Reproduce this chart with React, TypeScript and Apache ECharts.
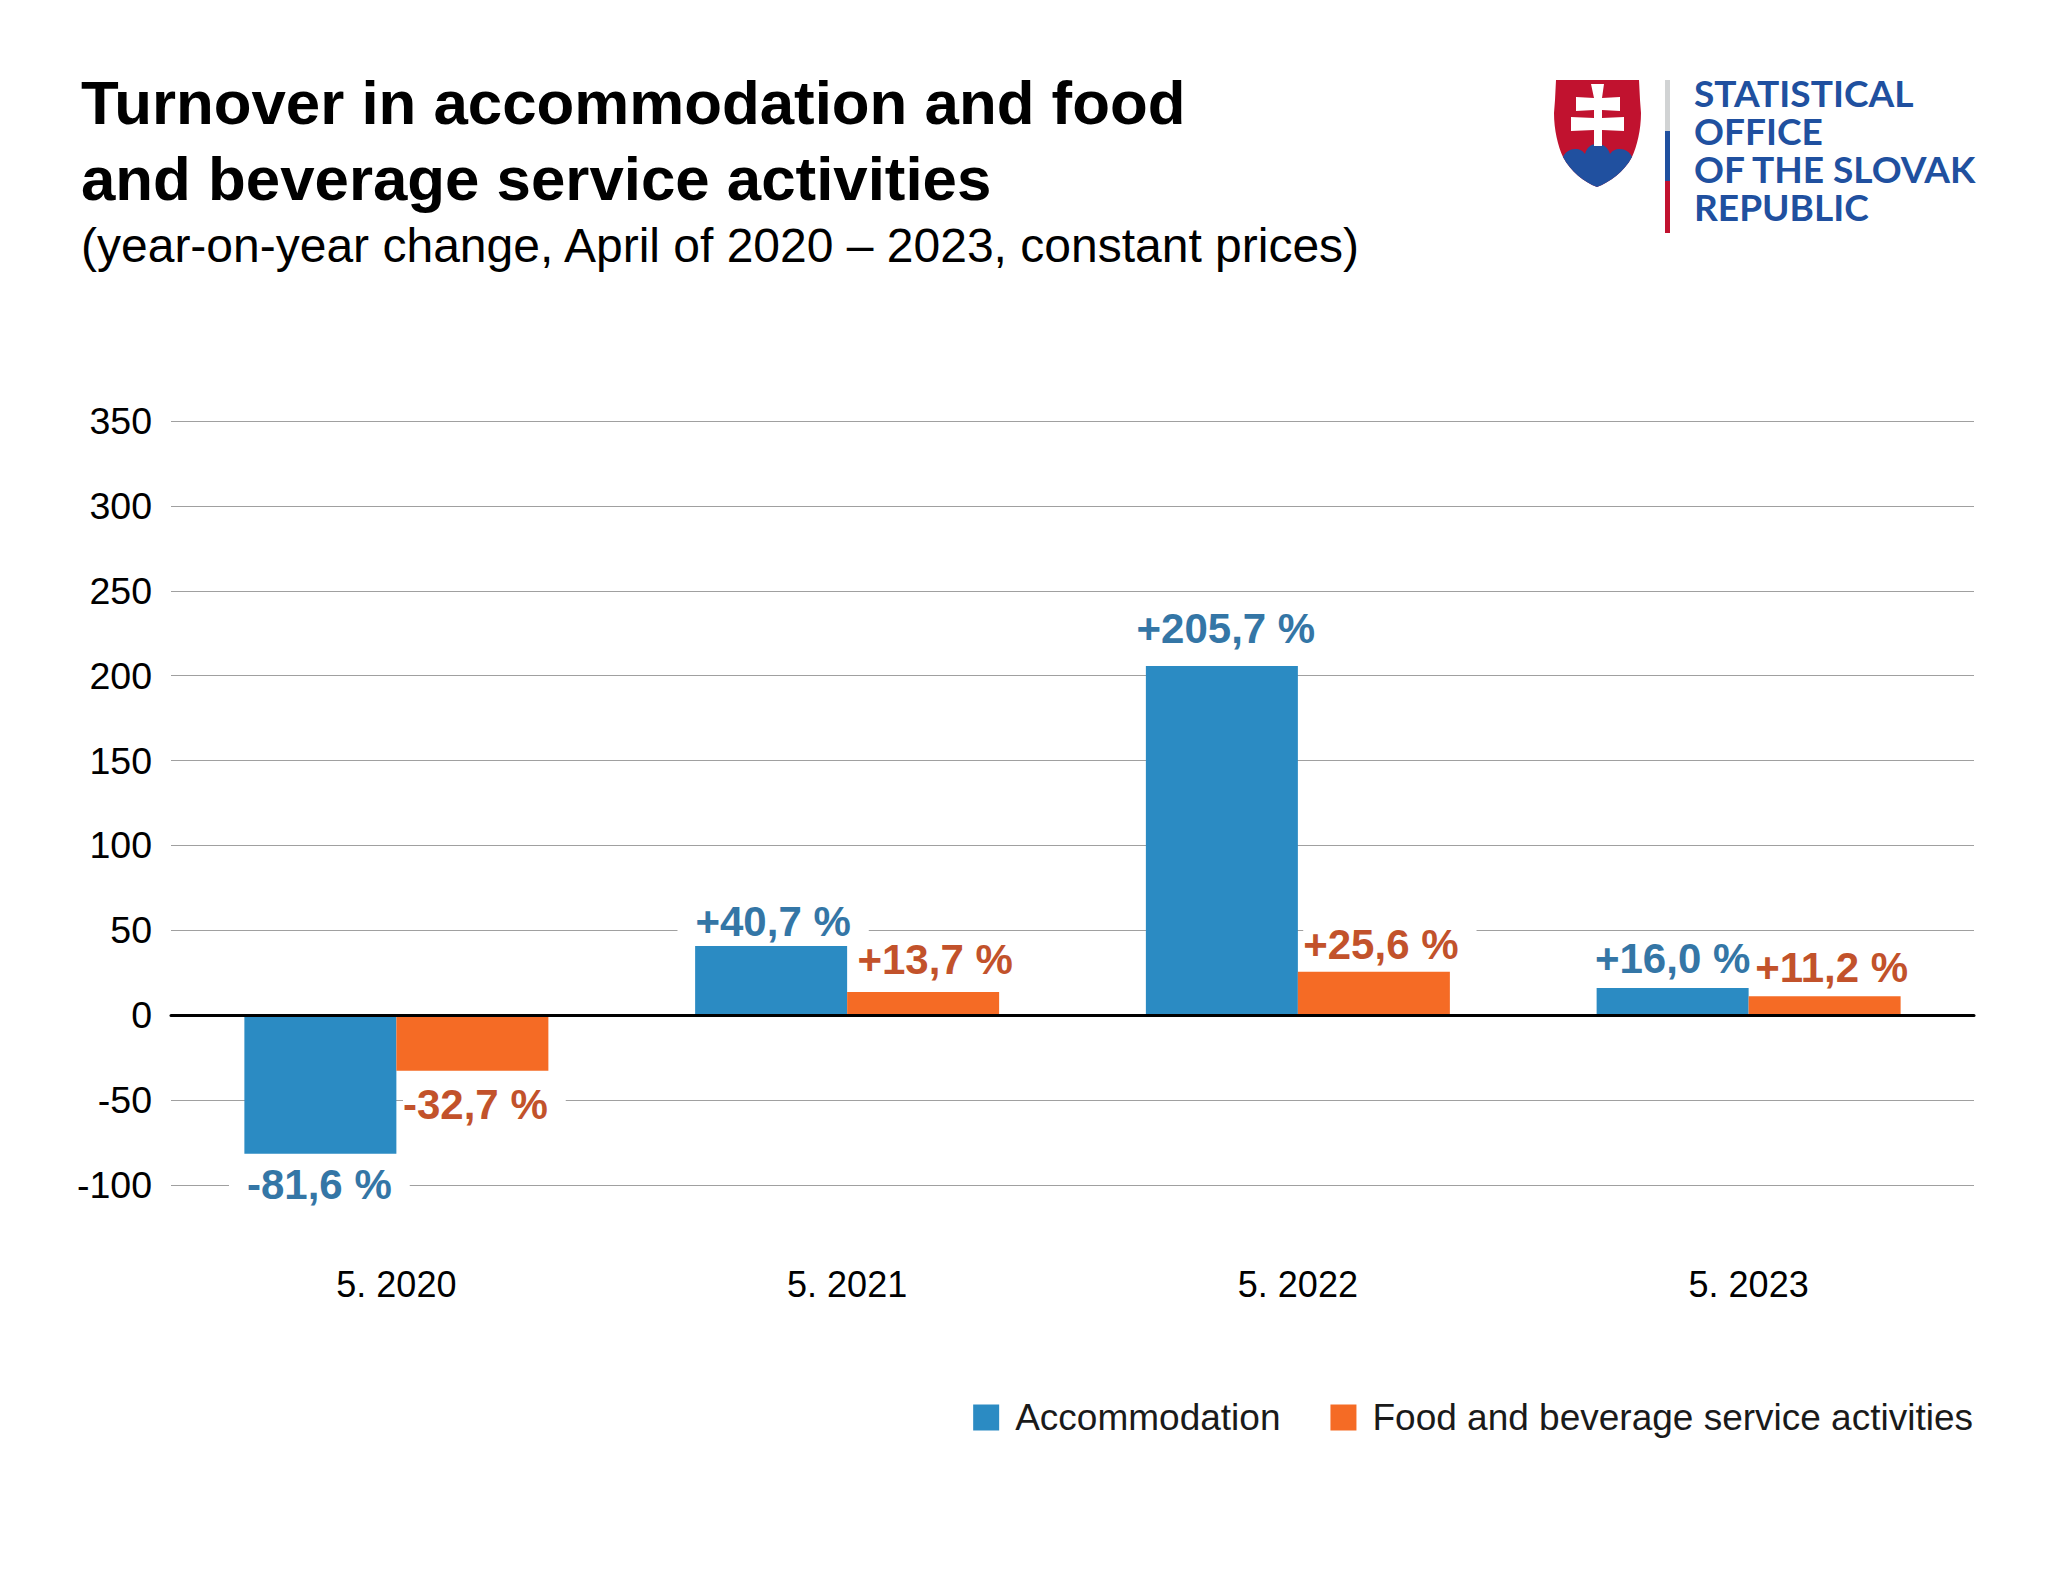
import React, { useEffect, useRef } from "react";
import * as echarts from "echarts";

const categories = ["5. 2020", "5. 2021", "5. 2022", "5. 2023"];
const accommodation = [-81.6, 40.7, 205.7, 16.0];
const foodBeverage = [-32.7, 13.7, 25.6, 11.2];
const seriesNames = ["Accommodation", "Food and beverage service activities"];
const titleLines = ["Turnover in accommodation and food", "and beverage service activities"];
const subtitle = "(year-on-year change, April of 2020 – 2023, constant prices)";
const logoLines = ["STATISTICAL", "OFFICE", "OF THE SLOVAK", "REPUBLIC"];

const FONT = '"Liberation Sans", Arial, sans-serif';
const fmt = (v: number) => `${v > 0 ? "+" : ""}${v.toFixed(1).replace(".", ",")} %`;

echarts.graphic.registerShape(
  "skShield",
  echarts.graphic.extendPath(
    "M1556 80 L1639 80 L1640 100 L1641 113 C1641 130 1637 146 1632 157 C1624 172 1610 182 1597 187 C1584 182 1571 172 1563 157 C1558 146 1554 130 1554 113 L1555 100 Z",
    {}
  )
);
echarts.graphic.registerShape(
  "skHills",
  echarts.graphic.extendPath(
    "M1563 157 C1565 152 1570 149 1575 149 C1580 149 1583 151 1585 154 C1587 147 1591 144 1597 144 C1603 144 1608 147 1610 154 C1612 151 1615 149 1620 149 C1625 149 1630 152 1632 157 C1624 172 1610 182 1597 187 C1584 182 1571 172 1563 157 Z",
    {}
  )
);
echarts.graphic.registerShape(
  "skCross",
  echarts.graphic.extendPath(
    "M1591 84 L1604 84 L1602 98 L1620 97 L1620 111 L1602 110 L1602 118 L1624 117 L1624 131 L1602 130 L1602 146 L1594 146 L1594 130 L1571 131 L1571 117 L1594 118 L1594 110 L1576 111 L1576 97 L1594 98 Z",
    {}
  )
);

// Hand placement of the value labels, as in the source chart.
const blueNudge = [[-1, 4], [2, 2], [4, -10], [0, -3]];
const orangeNudge = [[12, 7], [21, -5], [16, 0], [16, -2]];

export default function App() {
  const ref = useRef<HTMLDivElement>(null);
  useEffect(() => {
    document.body.style.margin = "0";
    const chart = echarts.init(ref.current!, undefined, { renderer: "svg" });
    const barLabel = (color: string, padding: number[]) => ({
      show: true,
      position: "outside" as const,
      distance: 6,
      color,
      fontFamily: FONT,
      fontWeight: "bold" as const,
      fontSize: 42,
      lineHeight: 42,
      backgroundColor: "#ffffff",
      padding,
      formatter: (p: any) => fmt(p.value),
    });
    chart.setOption({
      animation: false,
      backgroundColor: "#ffffff",
      textStyle: { fontFamily: FONT },
      title: [
        {
          text: titleLines.join("\n"),
          left: 81,
          top: 64,
          padding: 0,
          textStyle: { fontFamily: FONT, fontWeight: "bold", fontSize: 61.8, lineHeight: 76, color: "#000000" },
        },
        {
          text: subtitle,
          left: 81,
          top: 218,
          padding: 0,
          textStyle: { fontFamily: FONT, fontWeight: "normal", fontSize: 48, lineHeight: 54, color: "#000000" },
        },
      ],
      legend: {
        right: 75,
        top: 1399,
        itemWidth: 26,
        itemHeight: 26,
        itemGap: 50,
        icon: "rect",
        padding: 0,
        textStyle: { fontFamily: FONT, fontSize: 37, color: "#1a1a1a", padding: [0, 0, 0, 11] },
        data: seriesNames,
      },
      grid: { left: 171, right: 74, top: 421, height: 764, containLabel: false },
      xAxis: [
        {
          type: "category",
          data: categories,
          position: "bottom",
          axisLine: { show: false, onZero: false },
          axisTick: { show: false },
          axisLabel: { fontFamily: FONT, fontSize: 36, color: "#000000", margin: 81 },
        },
        {
          type: "category",
          data: categories,
          position: "bottom",
          axisLine: { show: true, onZero: true, lineStyle: { color: "#000000", width: 3 } },
          axisTick: { show: false },
          axisLabel: { show: false },
          z: 5,
        },
      ],
      yAxis: {
        type: "value",
        min: -100,
        max: 350,
        interval: 50,
        axisLine: { show: false },
        axisTick: { show: false },
        axisLabel: { fontFamily: FONT, fontSize: 37.5, color: "#000000", margin: 19 },
        splitLine: { lineStyle: { color: "#a0a0a0", width: 1 } },
      },
      series: [
        {
          name: seriesNames[0],
          type: "bar",
          data: accommodation.map((value, i) => ({ value, label: { offset: blueNudge[i] } })),
          barWidth: 152,
          barGap: 0,
          itemStyle: { color: "#2b8bc3" },
          label: barLabel("#3476a6", [0, 18, 0, 18]),
        },
        {
          name: seriesNames[1],
          type: "bar",
          data: foodBeverage.map((value, i) => ({ value, label: { offset: orangeNudge[i] } })),
          barWidth: 152,
          barGap: 0,
          itemStyle: { color: "#f56b25" },
          label: barLabel("#c2522b", [0, 18, 0, 0]),
        },
      ],
      graphic: [
        { type: "skShield", x: 0, y: 0, style: { fill: "#c1122f" } },
        { type: "skHills", x: 0, y: 0, style: { fill: "#20509f" } },
        { type: "skCross", x: 0, y: 0, style: { fill: "#ffffff" } },
        { type: "rect", shape: { x: 1665, y: 80, width: 5, height: 51 }, style: { fill: "#d1d3d4" } },
        { type: "rect", shape: { x: 1665, y: 131, width: 5, height: 50 }, style: { fill: "#20509f" } },
        { type: "rect", shape: { x: 1665, y: 181, width: 5, height: 52 }, style: { fill: "#c1122f" } },
        {
          type: "text",
          x: 1694,
          y: 74,
          scaleX: 1.03,
          style: {
            text: logoLines.join("\n"),
            fill: "#20509f",
            fontFamily: "Lato, sans-serif",
            fontWeight: "bold",
            fontSize: 36,
            lineHeight: 38,
            verticalAlign: "top",
          },
        },
      ],
    });
    return () => chart.dispose();
  }, []);
  return <div ref={ref} style={{ width: 2048, height: 1569 }} />;
}
